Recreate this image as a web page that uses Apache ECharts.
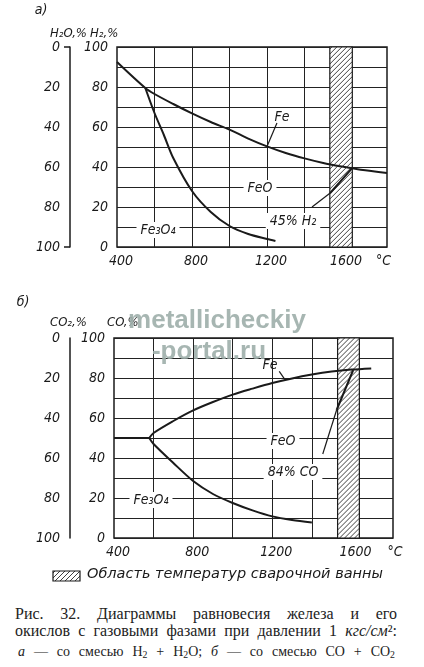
<!DOCTYPE html>
<html>
<head>
<meta charset="utf-8">
<script src="https://cdn.jsdelivr.net/npm/echarts@6/dist/echarts.min.js"></script>
<style>
    body { margin: 0; background: #fff; }
    #chart { position: absolute; left: 0; top: 0; width: 424px; height: 600px; }
    .cap { position: absolute; font-family: 'Liberation Serif', 'DejaVu Serif', serif; color: #222; }
    .j { text-align: justify; text-align-last: justify; }
    .cap sub { font-size: 70%; vertical-align: -2px; }
</style>
</head>
<body>
<div id="chart"></div>
<div class="cap" style="left:15px; top:605px; width:382px; font-size:16px; line-height:17px;">
    <div class="j">Рис. 32. Диаграммы равновесия железа и его</div>
    <div class="j">окислов с газовыми фазами при давлении 1 <i>кгс/см</i>²:</div>
</div>
<div class="cap j" style="left:18px; top:644px; width:377px; font-size:14px; line-height:16px;">
    <i>а</i> — со смесью H<sub>2</sub> + H<sub>2</sub>O; <i>б</i> — со смесью CO + CO<sub>2</sub>
</div>
<script>
// ---- data ----
// а) H2 + H2O
const aFeLine = [[400, 92.5], [551, 79.5], [600, 76.5], [700, 71.5], [800, 66.8], [900, 62.5], [1000, 58.7], [1100, 54.2], [1200, 50.3], [1300, 47], [1400, 44.3], [1500, 42], [1600, 40.2], [1700, 38.6], [1840, 37]]
const aFe3O4Line = [[551, 79.5], [600, 67], [650, 56], [700, 44.5], [800, 28], [900, 17.5], [1000, 10.5], [1100, 6.5], [1200, 4], [1245, 3]]
const aH2Line = [[1653, 39.3], [1537, 27]]
const aH2Pointer = [[1537, 27], [1440, 20]]
const aFePointer = [[1253, 62], [1200, 50.3]]
// б) CO + CO2
const bFlatLine = [[400, 50], [578, 50]]
const bFeLine = [[578, 50], [600, 52.5], [700, 58.5], [800, 63.8], [900, 68], [1000, 71.7], [1100, 74.7], [1200, 77.5], [1300, 79.8], [1400, 81.7], [1500, 83.2], [1600, 84.2], [1700, 84.8]]
const bFe3O4Line = [[578, 50], [600, 47], [700, 37.5], [800, 28.5], [900, 22], [1000, 17.5], [1100, 13.8], [1200, 10.8], [1300, 9], [1400, 7.8]]
const bCOLine = [[1609, 84], [1525, 64]]
const bCOPointer = [[1525, 64], [1455, 42]]
const bFePointer = [[1235, 83.3], [1264, 79.2]]

const gridX = [600, 800, 1000, 1200, 1400, 1600]
const weldZone = [1535, 1655]
const weldZoneB = [1530, 1640]
const xTickText = { 400: '400', 800: '800', 1200: '1200', 1600: '1600', 1800: '°C' }
const yTicks = [0, 20, 40, 60, 80, 100]

const F = "'DejaVu Sans Condensed', 'DejaVu Sans', sans-serif"
const ink = '#1a1a1a'

// white box with "////" lines, clipped by hand; returns flat list of elements
function hatchBox(x0, y0, x1, y1, z) {
    const els = [{ type: 'rect', z: z, z2: 0, silent: true, shape: { x: x0, y: y0, width: x1 - x0, height: y1 - y0 }, style: { fill: '#fff' } }]
    for (let k = x0 + y0 + 2; k < x1 + y1; k += 5) {
        const xa = Math.max(x0, k - y1)
        const xb = Math.min(x1, k - y0)
        if (xb > xa) els.push({
            type: 'line', z: z, z2: 1, silent: true,
            shape: { x1: xa, y1: k - xa, x2: xb, y2: k - xb },
            style: { stroke: '#2a2a2a', lineWidth: 0.9 }
        })
    }
    els.push({ type: 'rect', z: z, z2: 2, silent: true, shape: { x: x0, y: y0, width: x1 - x0, height: y1 - y0 }, style: { fill: 'none', stroke: ink, lineWidth: 1.2 } })
    return els
}

function xAxisOf(gi, max) {
    return {
        gridIndex: gi, type: 'value', min: 400, max: max, interval: 200,
        axisLine: { show: false }, axisTick: { show: false }, splitLine: { show: false },
        axisLabel: {
            margin: 7, color: ink, fontFamily: F, fontStyle: 'italic', fontSize: 14,
            padding: [0, 0, 0, 8],
            formatter: v => xTickText[v] || ''
        }
    }
}
function yMain(gi) {
    return {
        gridIndex: gi, type: 'value', min: 0, max: 100, interval: 10,
        axisLine: { show: false }, axisTick: { show: false },
        splitLine: { lineStyle: { color: '#222', width: 1 } },
        axisLabel: {
            margin: 9, color: ink, fontFamily: F, fontStyle: 'italic', fontSize: 14,
            formatter: v => yTicks.includes(v) ? v : ''
        }
    }
}
function ySecond(gi, offset, ticks) {
    return {
        gridIndex: gi, type: 'value', position: 'left', offset: offset, inverse: true,
        min: 0, max: 100, interval: 20,
        axisLine: { show: true, lineStyle: { color: ink, width: 1.5 } },
        axisTick: { show: ticks, customValues: [0, 100], length: 6, lineStyle: { color: ink, width: 1.5 } },
        splitLine: { show: false },
        axisLabel: { margin: 10, color: ink, fontFamily: F, fontStyle: 'italic', fontSize: 14 }
    }
}
function curve(gi, data, w) {
    return {
        type: 'line', xAxisIndex: gi, yAxisIndex: gi * 2, data: data, symbol: 'none',
        smooth: 0.3, z: 10,
        lineStyle: { color: ink, width: w }
    }
}
function gridLines(gi) {
    return {
        type: 'line', xAxisIndex: gi, yAxisIndex: gi * 2, data: [], z: 1,
        markLine: {
            silent: true, symbol: 'none', label: { show: false },
            lineStyle: { color: '#222', width: 1, type: 'solid' },
            data: gridX.map(v => ({ xAxis: v }))
        }
    }
}
function label(text, x, y, bg, size) {
    return {
        type: 'text', x: x, y: y, z: 50,
        style: {
            text: text, fill: ink, font: 'italic ' + (size || 14) + 'px ' + F,
            align: 'center', verticalAlign: 'middle',
            backgroundColor: bg ? '#fff' : null, padding: bg ? [1, 4] : 0
        }
    }
}

const chart = echarts.init(document.getElementById('chart'))
chart.setOption({
    animation: false,
    backgroundColor: '#fff',
    grid: [
        { left: 117, top: 47, width: 270, height: 200, show: true, borderColor: ink, borderWidth: 1.5 },
        { left: 114, top: 338, width: 279, height: 200, show: true, borderColor: ink, borderWidth: 1.5 }
    ],
    xAxis: [xAxisOf(0, 1840), xAxisOf(1, 1810)],
    yAxis: [yMain(0), ySecond(0, 47, true), yMain(1), ySecond(1, 44, false)],
    series: [
        gridLines(0),
        curve(0, aFeLine, 2),
        curve(0, aFe3O4Line, 2),
        curve(0, aH2Line, 2),
        curve(0, aH2Pointer, 1.2),
        curve(0, aFePointer, 1.2),
        gridLines(1),
        curve(1, bFlatLine, 2),
        curve(1, bFeLine, 2),
        curve(1, bFe3O4Line, 2),
        curve(1, bCOLine, 2),
        curve(1, bCOPointer, 1.2),
        curve(1, bFePointer, 1.2)
    ]
})

// welding-pool zone: corners come from the axes
function zoneBox(gi, zone) {
    const finder = { xAxisIndex: gi, yAxisIndex: gi * 2 }
    const p0 = chart.convertToPixel(finder, [zone[0], 100])
    const p1 = chart.convertToPixel(finder, [zone[1], 0])
    return hatchBox(p0[0], p0[1], p1[0], p1[1], 5)
}

chart.setOption({
    graphic: [
        ...zoneBox(0, weldZone),
        ...zoneBox(1, weldZoneB),

        label('а)', 41, 10, false, 14),
        { type: 'text', left: 50, top: 27, style: { text: 'H₂O,%', fill: ink, font: 'italic 13px ' + F } },
        { type: 'text', left: 90, top: 27, style: { text: 'H₂,%', fill: ink, font: 'italic 13px ' + F } },
        label('Fe', 282, 117),
        label('FeO', 260, 188, true),
        label('Fe₃O₄', 158, 230, true),
        label('45% H₂', 293, 221, true),

        label('б)', 23, 302, false, 14),
        { type: 'text', left: 50, top: 316, style: { text: 'CO₂,%', fill: ink, font: 'italic 13px ' + F } },
        { type: 'text', left: 107, top: 316, style: { text: 'CO,%', fill: ink, font: 'italic 13px ' + F } },
        label('Fe', 270, 365),
        label('FeO', 283, 441, true),
        label('84% CO', 293, 472, true),
        label('Fe₃O₄', 151, 500, true),

        ...hatchBox(53, 571, 80, 581, 50),
        { type: 'text', left: 87, top: 567, style: { text: 'Область температур сварочной ванны', fill: ink, font: "italic 14.5px 'DejaVu Sans', sans-serif" } },

        // watermark
        {
            type: 'text', x: 217, y: 321, z: 100,
            style: { text: 'metallicheckiy', fill: '#9daeaa', opacity: 0.9, font: 'bold 26px "Liberation Sans", Arial, sans-serif', align: 'center', verticalAlign: 'middle' }
        },
        {
            type: 'text', x: 209, y: 352, z: 100,
            style: { text: '-portal.ru', fill: '#9daeaa', opacity: 0.9, font: 'bold 26px "Liberation Sans", Arial, sans-serif', align: 'center', verticalAlign: 'middle' }
        }
    ]
})
</script>
</body>
</html>
